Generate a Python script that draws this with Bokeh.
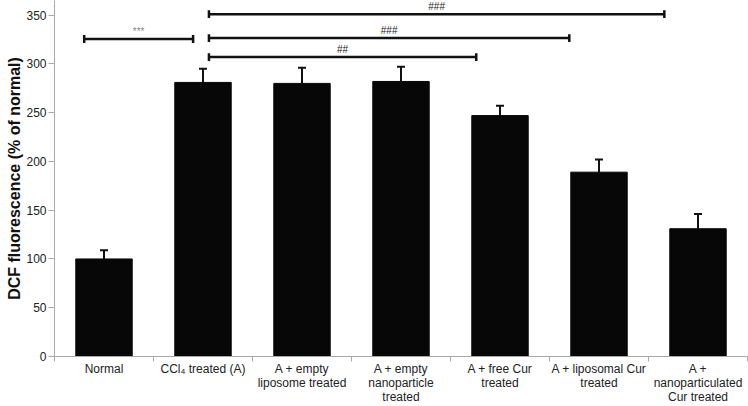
from bokeh.plotting import figure
from bokeh.models import ColumnDataSource, FixedTicker, Range1d, Whisker, TeeHead
from bokeh.embed import file_html
from bokeh.resources import INLINE
from bokeh.core.properties import value

categories = ["Normal", "CCl\u2084 treated (A)", "A + empty\nliposome treated",
              "A + empty\nnanoparticle\ntreated", "A + free Cur\ntreated",
              "A + liposomal Cur\ntreated", "A +\nnanoparticulated\nCur treated"]
means = [100, 281, 280, 282, 247, 189, 131]
errors = [9, 14, 16, 15, 10, 13, 15]

# significance brackets (category-axis positions)
br_x0 = [0.30, 1.56, 1.56, 1.56]
br_x1 = [1.40, 4.26, 5.20, 6.16]
br_y = [325.5, 307, 326.5, 351]
br_labels = ["***", "##", "###", "###"]
br_colors = ["#8a8a8a", "#222222", "#222222", "#222222"]

xs = [i + 0.5 for i in range(len(categories))]
tops = [m + e for m, e in zip(means, errors)]
src = ColumnDataSource(dict(x=xs, top=means, upper=tops))

p = figure(width=748, height=406, output_backend="svg", toolbar_location=None,
           x_range=Range1d(0, 7), y_range=Range1d(0, 365),
           min_border_left=54, min_border_right=1, min_border_top=0, min_border_bottom=46)
p.outline_line_color = None
p.grid.grid_line_color = None
p.background_fill_color = "white"

p.vbar(x="x", top="top", width=0.57, source=src, fill_color="#070707", line_color="#070707")
w = Whisker(base="x", upper="upper", lower="top", source=src, line_color="#111111",
            line_width=2, upper_head=TeeHead(size=8, line_width=2, line_color="#111111"),
            lower_head=None)
p.add_layout(w)

# brackets
cap = 4
p.segment(x0=br_x0, y0=br_y, x1=br_x1, y1=br_y, line_color="#111111", line_width=2.5)
p.segment(x0=br_x0, y0=[y - cap for y in br_y], x1=br_x0, y1=[y + cap for y in br_y],
          line_color="#111111", line_width=2.5)
p.segment(x0=br_x1, y0=[y - cap for y in br_y], x1=br_x1, y1=[y + cap for y in br_y],
          line_color="#111111", line_width=2.5)
lab_x = [(a + b) / 2 for a, b in zip(br_x0, br_x1)]
lab_y = [y + 2.5 for y in br_y]
p.text(x=lab_x, y=lab_y, text=br_labels, text_color=br_colors, text_font=value("Liberation Sans"),
       text_font_size="10px", text_align="center", text_baseline="bottom")

# axes
p.xaxis.ticker = FixedTicker(ticks=xs, minor_ticks=list(range(8)))
p.xaxis.major_label_overrides = {x: c for x, c in zip(xs, categories)}
p.xaxis.major_tick_line_color = None
p.xaxis.major_tick_out = 0
p.xaxis.major_tick_in = 0
p.xaxis.minor_tick_out = 5
p.xaxis.minor_tick_in = 0
p.xaxis.minor_tick_line_color = "#aaaaaa"
p.xaxis.axis_line_color = "#aaaaaa"
p.xaxis.major_label_text_font = "Liberation Sans"
p.xaxis.major_label_text_font_size = "12px"
p.xaxis.major_label_text_color = "#222222"
p.xaxis.major_label_text_line_height = 1.0
p.xaxis.major_label_standoff = 0

p.yaxis.ticker = FixedTicker(ticks=list(range(0, 351, 50)))
p.yaxis.minor_tick_line_color = None
p.yaxis.major_tick_out = 6
p.yaxis.major_tick_in = 0
p.yaxis.major_tick_line_color = "#aaaaaa"
p.yaxis.axis_line_color = "#aaaaaa"
p.yaxis.major_label_text_font = "Liberation Sans"
p.yaxis.major_label_text_font_size = "12px"
p.yaxis.major_label_text_color = "#222222"
p.yaxis.major_label_standoff = 2
p.yaxis.axis_label = "DCF fluorescence (% of normal)"
p.yaxis.axis_label_text_font = "Liberation Sans"
p.yaxis.axis_label_text_font_style = "bold"
p.yaxis.axis_label_text_font_size = "16px"
p.yaxis.axis_label_text_color = "#111111"
p.yaxis.axis_label_standoff = 0

open("out.html", "w").write(file_html(p, INLINE))
